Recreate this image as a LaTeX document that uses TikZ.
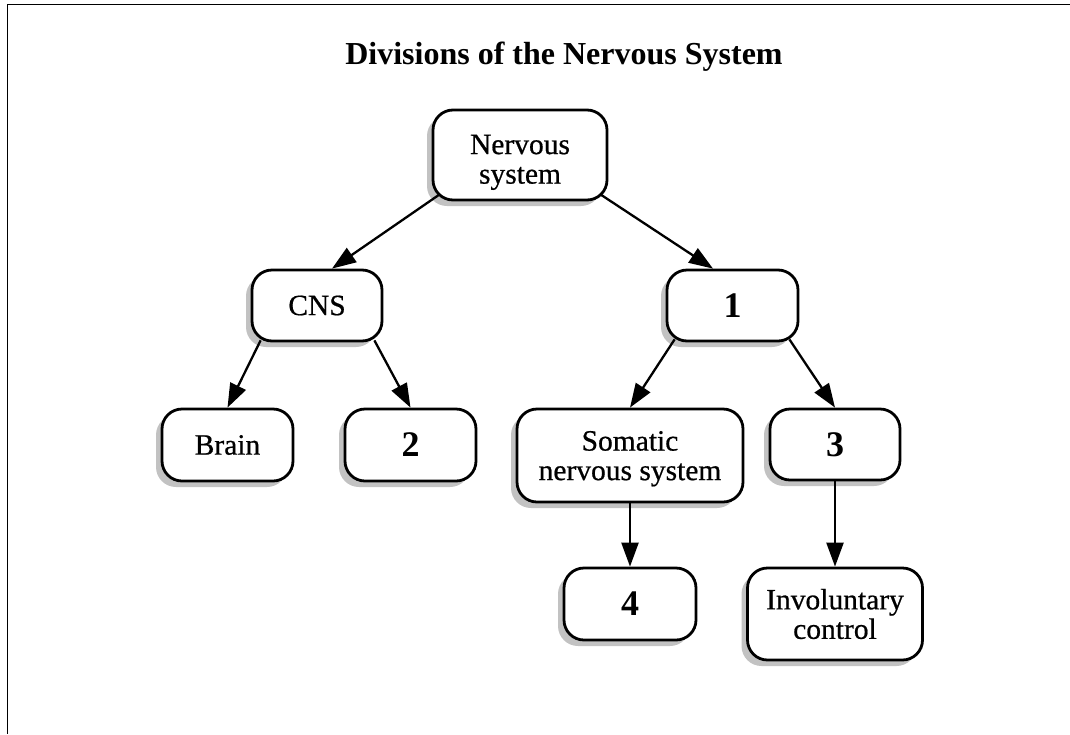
\documentclass[tikz,border=0pt]{standalone}
\usepackage{fontspec}
\setmainfont{Liberation Serif}
\newfontfamily\nodefont{Liberation Serif}[FakeBold=0.6]
\usetikzlibrary{shadows,arrows.meta,calc}
\begin{document}
\begin{tikzpicture}[x=1pt,y=-1pt,
  box/.style={draw, line width=2.8pt, rounded corners=20pt, fill=white,
    align=center, inner sep=0pt, font=\nodefont\fontsize{29.5}{29.5}\selectfont,
    drop shadow={shadow xshift=-6pt, shadow yshift=-6pt, fill=black!24, opacity=1}},
  numbox/.style={box, font=\fontsize{36}{36}\selectfont\bfseries},
  conn/.style={line width=2.3pt, -{Triangle[length=24pt,width=17pt]}},
  frameline/.style={line width=1.3pt},
  titletext/.style={font=\fontsize{32}{33}\selectfont\bfseries, anchor=base}
]
\useasboundingbox (0,0) rectangle (1070,734);
\draw[frameline] (1070,4.3) -- (7.3,4.3) -- (7.3,734);

\node[titletext] (title) at (564,64) {Divisions of the Nervous System};

\node[box, minimum width=174pt, minimum height=90pt] (ns) at (520,155) {\rule{0pt}{34pt}Nervous\\system};
\node[box, minimum width=130pt, minimum height=71pt] (cns) at (317,305.5) {CNS};
\node[numbox, minimum width=131pt, minimum height=71pt] (one) at (732.5,305.5) {1};
\node[box, minimum width=131pt, minimum height=72pt] (brain) at (227.5,445) {Brain};
\node[numbox, minimum width=131pt, minimum height=72pt] (two) at (410.5,445) {2};
\node[box, minimum width=226pt, minimum height=93pt] (som) at (630,455.5) {\rule{0pt}{26pt}Somatic\\nervous system};
\node[numbox, minimum width=130pt, minimum height=71pt] (three) at (835,444.5) {3};
\node[numbox, minimum width=132pt, minimum height=72pt] (four) at (630,604) {4};
\node[box, minimum width=175pt, minimum height=92pt] (inv) at (835,614) {Involuntary\\control};

\draw[conn] ($(ns.south west)+(8,-7)$) -- ($(cns.north)+(15,0)$);
\draw[conn] ($(ns.south east)+(-8,-7)$) -- ($(one.north)+(-19.5,0)$);
\draw[conn] ($(cns.south west)+(10,-2)$) -- (brain.north);
\draw[conn] ($(cns.south east)+(-9,-2)$) -- (two.north);
\draw[conn] ($(one.south west)+(9,-3)$) -- (som.north);
\draw[conn] ($(one.south east)+(-10,-3)$) -- (three.north);
\draw[conn] (som.south) -- (four.north);
\draw[conn] (three.south) -- (inv.north);
\end{tikzpicture}
\end{document}
